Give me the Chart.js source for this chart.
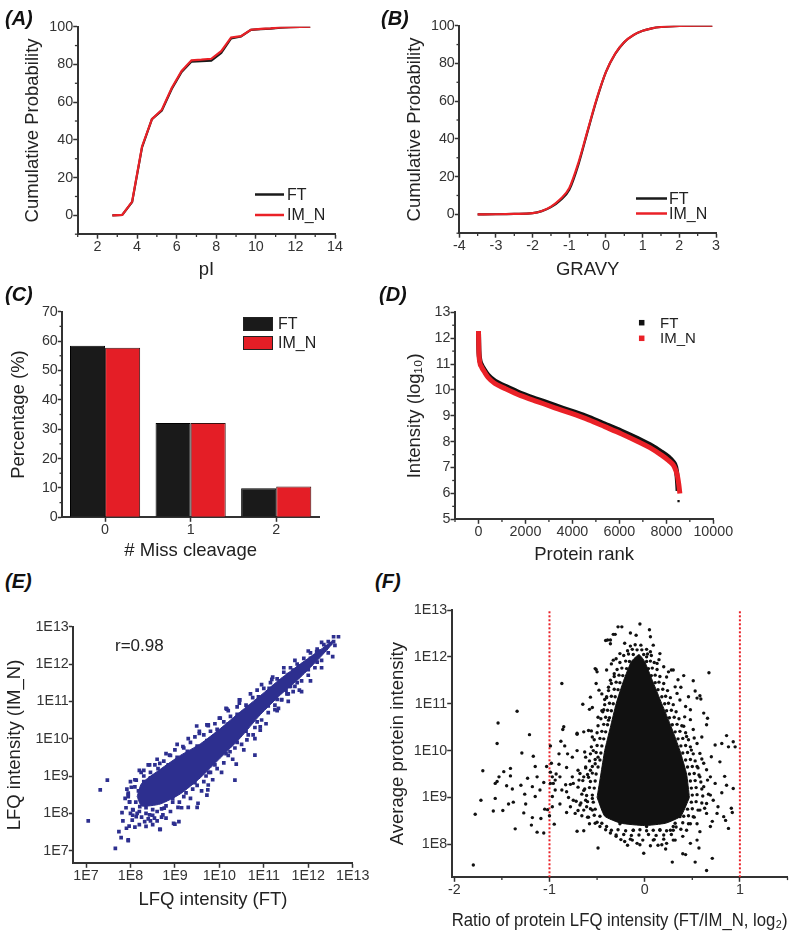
<!DOCTYPE html>
<html><head><meta charset="utf-8">
<script src="https://cdn.jsdelivr.net/npm/chart.js@4.4.1/dist/chart.umd.min.js"></script>
<style>
body{margin:0;background:#fff;width:800px;height:937px;position:relative;overflow:hidden;font-family:"Liberation Sans",Arial,sans-serif;}
canvas{position:absolute;}
.lbl{position:absolute;font:italic bold 20px "Liberation Sans",Arial,sans-serif;line-height:20px;color:#111;white-space:nowrap;}
.ann{position:absolute;font:17px "Liberation Sans",Arial,sans-serif;line-height:17px;color:#222;white-space:nowrap;}
</style></head><body>
<script>
// ---------------- DATA ----------------
// (A) pI cumulative probability
const pIValues = [2.75,3.25,3.75,4.25,4.75,5.25,5.75,6.25,6.75,7.25,7.75,8.25,8.75,9.25,9.75,10.25,10.75,11.25,11.75,12.25,12.75];
const pI_FT   = [0,0.2,7,36,51,55.5,67,76,81.5,81.8,82,86,93.8,94.8,98.3,98.7,99,99.5,99.7,99.9,100];
const pI_IMN  = [0,0.2,7.3,36.5,51,56,67.5,76.5,82.2,82.5,83,87,94.3,95,98.4,98.8,99.1,99.6,99.8,99.9,100];
const pITicksX = [2,4,6,8,10,12,14];
const cumTicksY = [0,20,40,60,80,100];
// (B) GRAVY cumulative probability
const gravyValues = [-3.5,-3,-2.5,-2,-1.75,-1.5,-1.25,-1,-0.75,-0.5,-0.25,0,0.25,0.5,0.75,1,1.25,1.5,2,2.5,2.9];
const gravy_FT  = [0,0.05,0.2,0.6,1.7,3.8,7.4,13,26.5,44,61,75.5,85,91.3,95,97.3,98.6,99.3,99.9,100,100];
const gravy_IMN = [0,0.05,0.2,0.6,1.8,4.1,8,14,27.5,44.5,61.5,75.5,85.2,91.4,95.1,97.3,98.6,99.3,99.9,100,100];
const gravyTicksX = [-4,-3,-2,-1,0,1,2,3];
// (C) missed cleavages
const missCleavage = ['0','1','2'];
const mc_FT  = [58.4,32.1,9.9];
const mc_IMN = [57.7,32.1,10.5];
const mcTicksY = [0,10,20,30,40,50,60,70];
// (D) protein rank vs log10 intensity
const rank_IMN = [0,15,50,130,250,410,700,1120,1800,2540,3250,3960,4700,5380,6100,6800,7300,7795,8100,8290,8400,8477,8530,8575];
const int_IMN  = [12.28,11.54,11.1,10.89,10.7,10.48,10.25,10.06,9.78,9.54,9.31,9.09,8.84,8.58,8.30,8.0,7.77,7.48,7.27,7.10,6.9,6.65,6.35,6.0];
const rank_FT  = [0,15,50,130,250,410,700,1120,1800,2540,3250,3960,4700,5380,6100,6800,7300,7795,8100,8290,8400,8460,8500,8520];
const int_FT   = [12.28,11.6,11.2,10.97,10.78,10.57,10.34,10.15,9.87,9.63,9.4,9.18,8.94,8.68,8.40,8.11,7.88,7.6,7.4,7.22,7.02,6.65,6.1,5.7];
const rankTicksX = [0,2000,4000,6000,8000,10000];
const intTicksY = [5,6,7,8,9,10,11,12,13];
// (E) LFQ FT vs IM_N, log10 values [FT, IM_N]
const eCoreUpper = [[8.15,8.45],[8.25,8.8],[8.67,9.18],[9.12,9.55],[9.57,9.86],[10.02,10.27],[10.47,10.72],[10.92,11.15],[11.37,11.6],[11.82,12.0],[12.27,12.38],[12.55,12.62]];
const eCoreLower = [[8.15,8.45],[8.25,8.2],[8.67,8.25],[9.12,8.52],[9.57,8.95],[10.02,9.48],[10.47,10.02],[10.92,10.64],[11.37,11.17],[11.82,11.64],[12.27,12.18],[12.55,12.55]];
const ePoints = [
[7.05,7.80],[7.32,8.63],[7.48,8.89],[7.66,7.06],[7.79,7.35],[7.74,7.51],[7.95,7.27],[7.83,7.80],[7.81,8.02],[7.91,7.60],[7.97,7.66],[8.04,7.82],[8.13,7.91],[8.10,7.63],[7.95,8.54],[7.95,8.45],[8.13,8.89],[8.24,9.10],[8.66,7.57],[9.00,7.71],[9.09,7.78],[9.07,8.16],[9.50,8.16],[9.52,8.27],[8.32,7.78],[8.43,7.96],[8.54,7.87],[8.73,7.96],[8.80,7.87],[8.76,8.14],[8.21,8.18],[8.06,8.09],[7.98,8.31],[8.10,8.71],[8.43,9.30],[8.66,9.34],[8.88,9.56],[9.18,9.79],[9.75,8.76],[9.76,9.10],
[10.45,11.04],[10.15,10.81],[10.02,10.55],[9.72,10.37],[9.55,10.14],[11.18,11.59],[11.85,11.26],[11.66,11.26],[11.57,11.40],[11.40,11.04],[11.33,10.81],[11.25,10.78],[10.92,10.32],[10.92,10.23],[10.76,10.10],[10.62,9.97],[12.57,12.73],[12.68,12.73],[12.57,12.60],[12.42,12.47],[12.19,12.33],[12.0,11.93],[11.66,11.84],[11.6,11.4],
[7.95,7.29],[8.67,7.57],[8.97,7.73],[9.30,8.16],[9.72,8.49],[9.74,8.63],[10.35,8.89],[10.38,9.32],[10.80,9.56],[10.24,9.65],[9.94,9.60],[9.49,10.34],[9.75,10.37],[10.17,10.79],[10.46,11.04],[11.52,11.20],
[8.3,9.0],[8.45,9.1],[8.55,9.3],[8.75,9.4],[8.9,9.55],[9.0,9.7],[9.2,9.75],[9.35,9.9],[9.45,10.05],[9.65,10.1],[9.8,10.2],[9.9,10.4],[10.1,10.45],[10.25,10.6],[10.4,10.85],[10.6,10.9],[10.75,11.1],[10.85,11.3],[11.0,11.35],[11.15,11.5],[11.3,11.6],[11.45,11.78],[11.6,11.9],[11.75,12.0],[11.9,12.15],[12.05,12.3],[12.2,12.4],[12.35,12.52],[12.45,12.6],
[8.35,8.0],[8.5,7.95],[8.6,8.05],[8.8,8.2],[8.95,8.3],[9.1,8.3],[9.25,8.55],[9.4,8.65],[9.5,8.75],[9.65,8.85],[9.8,9.1],[9.95,9.2],[10.1,9.35],[10.2,9.55],[10.35,9.75],[10.5,9.85],[10.65,10.1],[10.8,10.3],[10.95,10.5],[11.1,10.7],[11.25,10.9],[11.4,11.05],[11.55,11.2],[11.7,11.4],[11.85,11.55],[12.0,11.7],[12.15,11.9],[12.3,12.1],[12.45,12.3],[12.6,12.5],
[7.95,8.5],[7.98,8.3],[8.02,8.7],[8.05,8.1],[8.1,8.9],[8.15,8.0],[8.25,7.9],[8.4,7.85],[8.0,8.0],
[8.2,9.15],[8.4,9.3],[8.6,9.45],[8.8,9.6],[9.05,9.85],[9.3,10.0],[9.55,10.2],[9.75,10.35],[10.0,10.55],[10.2,10.75],[10.45,10.95],[10.7,11.2],[10.95,11.45],[11.2,11.65],[11.45,11.9],[11.7,12.1],[12.0,12.35],[12.3,12.58],
[8.45,7.8],[8.7,7.9],[8.9,8.05],[9.15,8.15],[9.35,8.4],[9.6,8.6],[9.85,8.9],[10.05,9.1],[10.3,9.45],[10.55,9.7],[10.8,10.0],[11.05,10.4],[11.3,10.75],[11.55,11.0],[11.8,11.3],[12.05,11.55],[12.3,11.9],[12.55,12.2],
[7.9,8.15],[7.92,8.65],[8.0,8.85],[8.05,7.95],[8.2,7.7],[8.35,7.65],[8.5,7.7],[8.6,7.8],[7.88,8.4],[8.3,9.15],
[8.12,8.3],[8.18,8.6],[8.2,8.05],[8.3,8.85],[8.35,8.15],[8.45,8.95],[8.5,8.1],[8.62,9.2],[8.7,8.12],[8.85,9.3],[8.95,8.4],[9.05,9.5],[9.2,8.45],[9.28,9.66],[9.45,8.82],[9.5,9.8],[9.7,9.0],[9.72,9.95],[9.9,9.3],[9.95,10.25],[10.15,9.6],[10.2,10.4],[10.4,9.9],[10.4,10.65],[10.6,10.2],[10.65,10.85],[10.85,10.45],[10.88,11.12],[11.1,10.88],[11.12,11.35],[11.3,11.05],[11.35,11.55],[11.5,11.3],[11.55,11.72],[11.75,11.5],[11.78,11.95],[12.0,11.85],[12.05,12.15],[12.2,12.05],[12.25,12.35],[12.4,12.42],[12.5,12.55]
];
const lfqExpTicks = [7,8,9,10,11,12,13];
// (F) log2 ratio vs log10 average intensity [ratio, log10 intensity]
const fCoreTop = [[-0.5,9.0],[-0.46,9.5],[-0.42,10.0],[-0.36,10.5],[-0.3,11.0],[-0.22,11.5],[-0.14,11.9],[-0.06,12.05],[0.0,11.9],[0.08,11.5],[0.18,11.0],[0.28,10.5],[0.37,10.0],[0.44,9.5],[0.47,9.0]];
const fCoreBottom = [[-0.5,9.0],[-0.42,8.6],[-0.25,8.45],[0.0,8.4],[0.22,8.45],[0.38,8.6],[0.47,9.0]];
const fPoints = [
[-1.80,7.56],[-1.78,8.64],[-1.72,8.94],[-1.70,9.57],[-1.54,10.59],[-1.55,10.15],[-1.59,8.71],[-1.57,8.98],[-1.57,9.30],[-1.55,9.34],[-1.53,9.44],[-1.48,9.55],[-1.49,8.72],[-1.45,9.25],[-1.41,9.62],[-1.41,9.46],[-1.39,9.18],[-1.36,8.33],[-1.38,8.90],[-1.43,8.86],[-1.34,10.84],[-1.29,9.95],[-1.30,9.26],[-1.26,9.07],[-1.27,8.67],[-1.25,8.86],[-1.23,9.41],[-1.21,10.34],[-1.18,8.57],[-1.19,8.41],[-1.17,9.88],[-1.15,9.66],[-1.18,9.23],[-1.15,9.02],[-1.13,8.26],[-1.09,8.55],[-1.06,9.32],[-1.06,8.24],[-1.05,8.75],[-1.02,8.74],[-1.00,8.61],[-0.99,9.30],[-0.99,9.54],[-0.98,9.73],[-0.99,10.10],
[-0.87,11.43],[-0.88,10.20],[-0.84,10.10],[-0.86,10.45],[-0.93,9.50],[-0.90,9.71],[-0.95,8.43],[-0.89,8.86],[-0.82,8.68],[-0.80,9.00],[-0.78,9.28],[-0.82,9.64],[-0.71,8.28],[-0.64,8.29],[-0.71,10.35],[-0.65,10.99],[-0.58,10.88],[-0.62,9.86],[-0.70,9.58],[-0.64,9.15],[-0.70,8.72],[-0.59,8.58],[-0.55,8.98],[-0.59,9.43],[-0.54,10.0],[-0.52,11.75],[-0.50,11.68],[-0.49,7.92],[-0.51,11.43],[-0.48,11.29],[-0.42,11.09],[-0.41,12.35],[-0.36,12.28],[-0.33,12.48],[-0.35,11.85],[-0.30,11.96],[-0.28,12.64],[-0.32,11.64],[-0.38,10.65],
[-0.97,9.44],[-0.96,9.30],[-0.94,9.16],[-0.94,9.37],[-0.89,9.44],[-0.83,9.27],[-0.87,9.16],[-0.82,9.12],[-0.76,9.44],[-0.75,9.30],[-0.78,8.80],[-0.75,8.94],[-0.73,8.66],[-0.68,8.84],[-0.62,8.94],[-0.61,8.80],[-0.55,8.73],[-0.52,8.45],[-0.47,8.38],[-0.41,8.31],[-0.64,9.44],[-0.69,9.37],[-0.62,9.65],[-0.57,9.58],[-0.52,9.72],[-0.49,9.86],[-0.55,10.29],[-0.59,10.43],[-0.64,10.40],[-0.49,10.71],[-0.45,10.85],[-0.55,10.92],[-0.45,11.21],[-0.38,11.35],[-0.36,11.50],[-0.57,11.14],[-0.76,9.86],[-0.81,9.93],[-0.71,10.00],[-0.90,9.93],[-0.97,9.02],[-1.03,9.66],[-1.10,9.16],[-1.13,9.44],[-0.97,8.80],
[-0.05,12.70],[-0.24,12.64],[-0.31,12.48],[-0.39,12.36],[0.05,12.58],[0.06,12.43],[0.09,12.25],[-0.15,12.51],[-0.09,12.46],[-0.21,12.29],[0.16,12.07],[0.15,11.94],[0.28,11.72],[0.25,11.68],[0.675,11.66],[0.35,11.51],[0.41,11.60],[0.38,11.35],[0.51,11.49],[0.53,11.27],[0.58,11.17],[0.59,11.10],[0.55,11.12],[0.62,10.80],[0.66,10.69],[0.48,10.87],[0.43,10.94],[0.65,10.55],[0.60,10.29],[0.86,10.32],[0.93,10.19],[0.95,10.08],[0.88,10.08],[0.81,10.15],[0.74,10.12],[0.70,9.87],[0.79,9.76],[0.84,9.45],[0.74,9.30],[0.93,9.19],[0.86,9.26],[0.81,9.10],[0.69,9.05],[0.65,8.87],[0.91,8.77],[0.92,8.68],[0.83,8.59],[0.85,8.51],[0.88,8.34],[0.71,8.49],[0.69,8.38],[0.58,8.27],[0.55,8.09],[0.48,8.02],[0.57,7.92],[0.43,7.78],[0.40,7.80],[0.53,7.62],[0.65,7.44],[0.71,7.70],[0.29,7.62],[0.22,7.90],[0.18,7.99],[0.23,8.02],[-0.01,7.81],[-0.13,8.09],[-0.21,8.06],[-0.30,8.17],[-0.36,8.24],[0.09,8.09],[0.33,8.37],[0.40,8.17],[0.48,8.44],[0.37,8.59],[0.16,8.30],
[0.30,11.72],[0.06,12.11],[-0.36,12.36],[-0.51,11.73],[-0.71,10.37],[-0.85,10.51],
[0.44,10.30],[0.49,10.01],[0.55,10.15],[0.58,9.94],[0.62,9.73],[0.55,9.66],[0.65,9.59],[0.58,9.44],[0.69,9.44],[0.62,9.23],[0.72,8.94],[0.77,8.80],[0.58,8.73],[0.65,8.66],[0.51,8.59],[0.76,8.66],[0.55,8.44],[0.44,8.30],[0.32,8.09],[0.27,8.30],[0.48,10.66],[0.51,10.45],[0.41,10.52],[0.37,11.08],[0.34,11.22],[0.46,11.15],[0.32,11.36],[0.23,11.57],[0.20,11.79],[0.13,11.86],[0.02,12.0],[-0.26,12.07],[-0.33,11.93],[-0.40,11.72],[-0.40,11.15],[-0.43,10.87],[-0.08,8.02],[0.02,8.38],[-0.26,8.44],[-0.12,8.30],
[-0.45,8.45],[-0.5,8.47],[-0.58,8.44],[-0.47,8.6],[-0.53,8.62],[-0.6,8.58],[-0.66,8.61],[-0.52,8.75],[-0.57,8.76],[-0.64,8.73],[-0.54,8.9],[-0.6,8.91],[-0.67,8.88],[-0.72,8.92],[-0.55,9.05],[-0.61,9.04],[-0.66,9.07],[-0.53,9.2],[-0.58,9.21],[-0.63,9.18],[-0.7,9.22],[-0.52,9.35],[-0.57,9.34],[-0.65,9.36],[-0.51,9.5],[-0.55,9.52],[-0.6,9.49],[-0.68,9.51],[-0.49,9.65],[-0.55,9.66],[-0.62,9.63],[-0.47,9.8],[-0.52,9.81],[-0.58,9.78],[-0.46,9.95],[-0.51,9.96],[-0.57,9.93],[-0.63,9.97],[-0.45,10.1],[-0.5,10.11],[-0.56,10.08],[-0.43,10.25],[-0.47,10.26],[-0.53,10.23],[-0.41,10.4],[-0.45,10.41],[-0.5,10.38],[-0.56,10.42],[-0.39,10.55],[-0.43,10.56],[-0.49,10.53],[-0.37,10.7],[-0.41,10.71],[-0.46,10.68],[-0.35,10.85],[-0.39,10.86],[-0.44,10.83],[-0.33,11.0],[-0.37,11.01],[-0.42,10.98],[-0.31,11.15],[-0.35,11.16],[-0.4,11.13],[-0.28,11.3],[-0.32,11.31],[-0.38,11.28],[-0.26,11.45],[-0.3,11.46],[-0.35,11.43],[-0.23,11.6],[-0.27,11.61],[-0.32,11.58],[-0.19,11.75],[-0.24,11.76],[-0.29,11.73],[-0.16,11.9],[-0.2,11.91],[-0.26,11.88],[-0.12,12.05],[-0.17,12.06],[-0.22,12.03],[-0.08,12.15],[-0.13,12.16],[-0.18,12.13],[-0.04,12.25],[-0.1,12.26],[-0.15,12.23],
[0.3,8.3],[0.38,8.32],[0.32,8.45],[0.4,8.46],[0.46,8.44],[0.41,8.6],[0.46,8.61],[0.52,8.58],[0.45,8.75],[0.5,8.76],[0.56,8.73],[0.63,8.77],[0.49,8.9],[0.54,8.91],[0.6,8.88],[0.5,9.05],[0.55,9.06],[0.61,9.03],[0.67,9.07],[0.49,9.2],[0.54,9.21],[0.6,9.18],[0.48,9.35],[0.53,9.36],[0.59,9.33],[0.66,9.37],[0.47,9.5],[0.52,9.51],[0.57,9.48],[0.45,9.65],[0.5,9.66],[0.56,9.63],[0.43,9.8],[0.48,9.81],[0.53,9.78],[0.6,9.82],[0.4,9.95],[0.45,9.96],[0.51,9.93],[0.38,10.1],[0.43,10.11],[0.48,10.08],[0.35,10.25],[0.4,10.26],[0.46,10.23],[0.52,10.27],[0.32,10.4],[0.37,10.41],[0.43,10.38],[0.29,10.55],[0.34,10.56],[0.39,10.53],[0.26,10.7],[0.31,10.71],[0.36,10.68],[0.42,10.72],[0.23,10.85],[0.28,10.86],[0.33,10.83],[0.21,11.0],[0.25,11.01],[0.3,10.98],[0.18,11.15],[0.22,11.16],[0.27,11.13],[0.14,11.3],[0.19,11.31],[0.24,11.28],[0.11,11.45],[0.15,11.46],[0.2,11.43],[0.07,11.6],[0.11,11.61],[0.16,11.58],[0.04,11.75],[0.08,11.76],[0.13,11.73],[0.02,11.9],[0.06,11.91],[0.1,11.88],[-0.01,12.05],[0.03,12.06],[0.07,12.03],[-0.03,12.15],[0.02,12.16],
[-0.35,8.3],[-0.28,8.31],[-0.2,8.29],[-0.12,8.3],[-0.05,8.31],[0.02,8.29],[0.09,8.3],[0.16,8.31],[0.23,8.29],[-0.3,8.2],[-0.22,8.21],[-0.14,8.19],[-0.06,8.2],[0.04,8.21],[0.12,8.19],[0.2,8.2],[0.28,8.21],[-0.25,8.1],[-0.15,8.11],[-0.02,8.09],[0.1,8.1],[0.2,8.11],[0.3,8.09],[-0.18,7.98],[-0.05,7.99],[0.06,7.97],[0.14,7.98],[-0.4,8.38],[0.3,8.38]
];
const fRatioTicks = [-2,-1,0,1];
const fExpTicks = [8,9,10,11,12,13];
const fCutoffs = [-1,1];

// ---------------- STYLE / HELPERS ----------------
const FONT = '"Liberation Sans", Arial, Helvetica, sans-serif';
Chart.defaults.font.family = FONT;
Chart.defaults.font.size = 14.3;
Chart.defaults.color = '#333';
const TITLE_SIZE = 18.5, LH = TITLE_SIZE * 1.2;
const BLACK = '#1a1a1a', RED = '#ea2127', BLUE = '#2d2f8f';
const pow10 = v => Math.pow(10, v);
const logFmt = v => '1E' + Math.round(Math.log10(v));

function axis(type, ticksArr, min, max, title, fmt) {
  const a = {
    type, min, max,
    ticks: {padding: 0, autoSkip: false, maxRotation: 0, minRotation: 0, color: '#333', callback: fmt || (v => String(v))},
    grid: {drawOnChartArea: false, drawTicks: true, tickLength: 4.5, tickWidth: 1.5, tickColor: '#333'},
    border: {display: true, color: '#333', width: 2},
    title: {display: true, text: title, color: '#222', font: {size: TITLE_SIZE}}
  };
  if (ticksArr) a.afterBuildTicks = s => { s.ticks = ticksArr.map(v => ({value: v})); };
  return a;
}

const minorTicks = {
  id: 'minorTicks',
  afterDraw(chart, args, opts) {
    const ctx = chart.ctx, ca = chart.chartArea;
    ['x', 'y'].forEach(id => {
      if (!opts[id]) return;
      const s = chart.scales[id];
      const t = s.ticks.map(k => k.value);
      const step = t[1] - t[0];
      ctx.save(); ctx.strokeStyle = '#333'; ctx.lineWidth = 1.3;
      for (let v = t[0] - step / 2; v <= s.max + 1e-9; v += step) {
        if (v < s.min - 1e-9) continue;
        const p = s.getPixelForValue(v);
        ctx.beginPath();
        if (id === 'x') { ctx.moveTo(p, ca.bottom); ctx.lineTo(p, ca.bottom + 2.8); }
        else { ctx.moveTo(ca.left, p); ctx.lineTo(ca.left - 2.8, p); }
        ctx.stroke();
      }
      ctx.restore();
    });
  }
};

const customLegend = {
  id: 'customLegend',
  afterDraw(chart, args, opts) {
    if (!opts.items) return;
    const ctx = chart.ctx;
    const ox = parseFloat(chart.canvas.style.left), oy = parseFloat(chart.canvas.style.top);
    ctx.save();
    ctx.font = opts.size + 'px ' + FONT; ctx.textBaseline = 'middle'; ctx.textAlign = 'left';
    opts.items.forEach(it => {
      const ds = chart.data.datasets[it.ds];
      const x = it.x - ox, y = it.y - oy;
      if (it.type === 'line') {
        ctx.strokeStyle = ds.borderColor; ctx.lineWidth = 2.5;
        ctx.beginPath(); ctx.moveTo(x, y); ctx.lineTo(x + it.w, y); ctx.stroke();
      } else if (it.type === 'box') {
        ctx.fillStyle = ds.backgroundColor; ctx.fillRect(x, y - it.h / 2, it.w, it.h);
        ctx.strokeStyle = '#222'; ctx.lineWidth = 1; ctx.strokeRect(x + 0.5, y - it.h / 2 + 0.5, it.w - 1, it.h - 1);
      } else {
        ctx.fillStyle = ds.borderColor; ctx.fillRect(x - it.w / 2, y - it.w / 2, it.w, it.w);
      }
      ctx.fillStyle = '#222';
      ctx.fillText(ds.label, it.tx - ox, y + 1);
    });
    ctx.restore();
  }
};
Chart.register(minorTicks, customLegend);

function makePanel(a, cfg) {
  const left = Math.round(a.ytx - 14), top = Math.round(a.T - 14);
  const w = Math.round(a.R + 24 - left), h = Math.round(a.xty + 16 - top);
  const yw = a.L - left, xh = h - (a.B - top);
  const c = document.createElement('canvas');
  c.width = w; c.height = h;
  c.style.left = left + 'px'; c.style.top = top + 'px';
  c.style.width = w + 'px'; c.style.height = h + 'px';
  document.body.appendChild(c);
  const o = cfg.options;
  Object.assign(o, {responsive: false, animation: false, events: [], devicePixelRatio: 1});
  o.layout = {autoPadding: false, padding: {left: 0, top: a.T - top, right: w - (a.R - left), bottom: 0}};
  o.scales.x.afterFit = s => { s.height = xh; };
  o.scales.y.afterFit = s => { s.width = yw; };
  o.scales.y.title.padding = {top: a.ytx - left - LH / 2, bottom: 0};
  o.scales.x.title.padding = {top: 0, bottom: top + h - LH / 2 - a.xty};
  o.plugins = Object.assign({legend: {display: false}, tooltip: {enabled: false}}, o.plugins || {});
  new Chart(c, cfg);
}
const xy = (xs, ys) => xs.map((x, i) => ({x, y: ys[i]}));

// (A)
makePanel({L: 77.7, T: 26.7, R: 335, B: 234.2, ytx: 32.5, xty: 269.5}, {
  type: 'line',
  data: {datasets: [
    {label: 'FT', data: xy(pIValues, pI_FT), borderColor: BLACK, borderWidth: 2.2, pointRadius: 0, order: 2},
    {label: 'IM_N', data: xy(pIValues, pI_IMN), borderColor: RED, borderWidth: 2.2, pointRadius: 0, order: 1}
  ]},
  options: {
    scales: {x: axis('linear', pITicksX, 1, 14, 'pI'), y: axis('linear', cumTicksY, -10, 100, 'Cumulative Probability')},
    plugins: {minorTicks: {x: true, y: true}, customLegend: {size: 16, items: [
      {ds: 0, type: 'line', x: 255, y: 194.5, w: 29, tx: 287},
      {ds: 1, type: 'line', x: 255, y: 215, w: 29, tx: 287}]}}
  }
});
// (B)
makePanel({L: 459.3, T: 25.7, R: 716, B: 233.2, ytx: 415, xty: 270}, {
  type: 'line',
  data: {datasets: [
    {label: 'FT', data: xy(gravyValues, gravy_FT), borderColor: BLACK, borderWidth: 2.2, pointRadius: 0, cubicInterpolationMode: 'monotone', order: 2},
    {label: 'IM_N', data: xy(gravyValues, gravy_IMN), borderColor: RED, borderWidth: 2.2, pointRadius: 0, cubicInterpolationMode: 'monotone', order: 1}
  ]},
  options: {
    scales: {x: axis('linear', gravyTicksX, -4, 3, 'GRAVY'), y: axis('linear', cumTicksY, -10, 100, 'Cumulative Probability')},
    plugins: {minorTicks: {x: true, y: true}, customLegend: {size: 16, items: [
      {ds: 0, type: 'line', x: 636, y: 198.5, w: 31, tx: 669},
      {ds: 1, type: 'line', x: 636, y: 213.5, w: 31, tx: 669}]}}
  }
});
// (C)
const cx = axis('category', null, undefined, undefined, '# Miss cleavage');
cx.grid.offset = false; cx.offset = true;
makePanel({L: 62.3, T: 311.7, R: 319, B: 517.3, ytx: 18.8, xty: 551}, {
  type: 'bar',
  data: {labels: missCleavage, datasets: [
    {label: 'FT', data: mc_FT, backgroundColor: BLACK, borderColor: '#000', borderWidth: 1, categoryPercentage: 0.82, barPercentage: 1},
    {label: 'IM_N', data: mc_IMN, backgroundColor: '#e41e26', borderColor: '#3a1010', borderWidth: 1, categoryPercentage: 0.82, barPercentage: 1}
  ]},
  options: {
    scales: {x: cx, y: axis('linear', mcTicksY, 0, 70, 'Percentage (%)')},
    plugins: {minorTicks: {y: true}, customLegend: {size: 16, items: [
      {ds: 0, type: 'box', x: 243, y: 324, w: 30, h: 14, tx: 278},
      {ds: 1, type: 'box', x: 243, y: 343, w: 30, h: 14, tx: 278}]}}
  }
});
// (D)
const lastFT = rank_FT.length - 1;
makePanel({L: 455, T: 312.3, R: 713.3, B: 519.3, ytx: 415.3, xty: 555}, {
  type: 'line',
  data: {datasets: [
    {label: 'FT', data: xy(rank_FT, int_FT), borderColor: '#111', backgroundColor: '#111', borderWidth: 5,
     pointRadius: c => c.dataIndex === lastFT ? 1.6 : 0, pointBorderWidth: 0, pointStyle: 'rect', cubicInterpolationMode: 'monotone',
     segment: {borderColor: c => c.p1DataIndex === lastFT ? 'rgba(0,0,0,0)' : undefined}, order: 2},
    {label: 'IM_N', data: xy(rank_IMN, int_IMN), borderColor: RED, borderWidth: 5, pointRadius: 0, cubicInterpolationMode: 'monotone', order: 1}
  ]},
  options: {
    scales: {x: axis('linear', rankTicksX, -1000, 10000, 'Protein rank'), y: axis('linear', intTicksY, 5, 13, 'Intensity (log\u2081\u2080)')},
    plugins: {minorTicks: {x: true, y: true}, customLegend: {size: 15, items: [
      {ds: 0, type: 'square', x: 641.7, y: 322.7, w: 5.5, tx: 660},
      {ds: 1, type: 'square', x: 641.7, y: 338.3, w: 5.5, tx: 660}]}}
  }
});
// (E)
const toPts = arr => arr.map(p => ({x: pow10(p[0]), y: pow10(p[1])}));
makePanel({L: 73.3, T: 626.7, R: 352.7, B: 863.3, ytx: 15, xty: 900}, {
  type: 'line',
  data: {datasets: [
    {data: toPts(eCoreUpper), borderColor: BLUE, backgroundColor: BLUE, borderWidth: 1, pointRadius: 0, fill: '+1', tension: 0.2},
    {data: toPts(eCoreLower), borderColor: BLUE, borderWidth: 1, pointRadius: 0, fill: false, tension: 0.2},
    {data: toPts(ePoints), showLine: false, pointStyle: 'rect', pointRadius: 2.6, pointBorderWidth: 0, backgroundColor: BLUE, borderColor: BLUE}
  ]},
  options: {
    scales: {
      x: axis('logarithmic', lfqExpTicks.map(pow10), pow10(6.714), 1e13, 'LFQ intensity (FT)', logFmt),
      y: axis('logarithmic', lfqExpTicks.map(pow10), pow10(6.662), 1e13, 'LFQ intensity (IM_N)', logFmt)
    }
  }
});
// (F)
const fYmin = pow10(7.296), fYmax = 1e13;
const fRatioPts = arr => arr.map(p => ({x: p[0], y: pow10(p[1])}));
makePanel({L: 451.7, T: 610, R: 787.5, B: 877.3, ytx: 398, xty: 920.8}, {
  type: 'line',
  data: {datasets: [
    {data: fRatioPts(fCoreTop), borderColor: '#111', backgroundColor: '#111', borderWidth: 1, pointRadius: 0, fill: '+1', tension: 0.15},
    {data: fRatioPts(fCoreBottom), borderColor: '#111', borderWidth: 1, pointRadius: 0, fill: false, tension: 0.15},
    {data: fRatioPts(fPoints), showLine: false, pointStyle: 'circle', pointRadius: 1.7, pointBorderWidth: 0, backgroundColor: '#111', borderColor: '#111'},
    ...fCutoffs.map(c => ({data: [{x: c, y: fYmin}, {x: c, y: fYmax}], borderColor: RED, borderWidth: 2, borderDash: [2, 2], pointRadius: 0, fill: false}))
  ]},
  options: {
    scales: {
      x: axis('linear', fRatioTicks, -2.027, 1.5, 'Ratio of protein LFQ intensity (FT/IM_N, log\u2082)'),
      y: axis('logarithmic', fExpTicks.map(pow10), fYmin, fYmax, 'Average protein intensity', logFmt)
    },
    plugins: {minorTicks: {x: true}}
  }
});

// panel labels & annotation
[['(A)', 5, 25], ['(B)', 381, 25], ['(C)', 5, 301], ['(D)', 379, 301], ['(E)', 5, 588], ['(F)', 375, 588]].forEach(([t, x, b]) => {
  const d = document.createElement('div'); d.className = 'lbl'; d.textContent = t;
  d.style.left = x + 'px'; d.style.top = (b - 16.9) + 'px'; document.body.appendChild(d);
});
const r = document.createElement('div'); r.className = 'ann'; r.textContent = 'r=0.98';
r.style.left = '115px'; r.style.top = (651 - 14.4) + 'px'; document.body.appendChild(r);
</script>
</body></html>
